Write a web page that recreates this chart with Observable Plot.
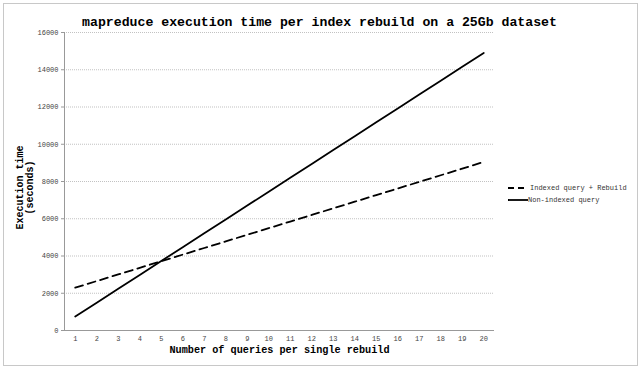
<!DOCTYPE html>
<html>
<head>
<meta charset="utf-8">
<script src="https://cdn.jsdelivr.net/npm/d3@7"></script>
<script src="https://cdn.jsdelivr.net/npm/@observablehq/plot@0.6"></script>
<style>
  html, body { margin: 0; padding: 0; background: #fff; }
  #wrap { position: relative; width: 640px; height: 368px; }
  #border { position: absolute; left: 3px; top: 3px; width: 633px; height: 361px; border: 1px solid #c8c8c8; pointer-events: none; }
</style>
</head>
<body>
<div id="wrap"><div id="border"></div></div>
<script>
const queries = [1,2,3,4,5,6,7,8,9,10,11,12,13,14,15,16,17,18,19,20];
const indexedRebuild = [2300,2655,3010,3365,3720,4075,4430,4785,5140,5495,5850,6205,6560,6915,7270,7625,7980,8335,8690,9050];
const nonIndexed = [750,1490,2240,2980,3730,4470,5220,5960,6710,7450,8200,8940,9690,10430,11180,11920,12670,13410,14160,14900];
const yTicks = [0,2000,4000,6000,8000,10000,12000,14000,16000];
const seriesNames = ["Indexed query + Rebuild", "Non-indexed query"];
const titleText = "mapreduce execution time per index rebuild on a 25Gb dataset";
const xLabel = "Number of queries per single rebuild";
const yLabel = "Execution time\n(seconds)";

const data = [];
queries.forEach((q, i) => {
  data.push({q, v: indexedRebuild[i], s: seriesNames[0]});
  data.push({q, v: nonIndexed[i], s: seriesNames[1]});
});

const mono = "'Liberation Mono', 'DejaVu Sans Mono', monospace";

const chart = Plot.plot({
  width: 640,
  height: 368,
  marginLeft: 64,
  marginRight: 146,
  marginTop: 32,
  marginBottom: 38,
  style: { fontFamily: mono, fontSize: "7px", color: "#444", background: "transparent" },
  x: { domain: [0.5, 20.5], label: null },
  y: { domain: [0, 16000], label: null },
  marks: [
    Plot.gridY(yTicks.filter(d => d > 0), { stroke: "#999", strokeOpacity: 1, strokeWidth: 0.6, strokeDasharray: "1,1" }),
    Plot.axisX({ ticks: queries, tickFormat: d => String(d), tickSize: 0, tickPadding: 6, fontSize: 7, fill: "#444" }),
    Plot.axisY({ ticks: yTicks, tickFormat: d => String(d), tickSize: 3, tickPadding: 3, fontSize: 7, fill: "#444", stroke: "#999" }),
    Plot.ruleY([0], { stroke: "#999", strokeWidth: 1 }),
    Plot.ruleX([0.5], { stroke: "#999", strokeWidth: 1 }),
    Plot.line(data.filter(d => d.s === seriesNames[0]), { x: "q", y: "v", stroke: "#000", strokeWidth: 1.8, strokeDasharray: "8,5" }),
    Plot.line(data.filter(d => d.s === seriesNames[1]), { x: "q", y: "v", stroke: "#000", strokeWidth: 1.8 }),
    Plot.text([titleText], { frameAnchor: "top", dy: -16, dx: 40, textAnchor: "middle", fontSize: 13.2, fontWeight: "bold", fill: "#000", fontFamily: mono }),
    Plot.text([xLabel], { frameAnchor: "bottom", dy: 22, textAnchor: "middle", fontSize: 10.2, fontWeight: "bold", fill: "#000", fontFamily: mono }),
    Plot.text([yLabel], { frameAnchor: "left", dx: -40, dy: 6, rotate: -90, textAnchor: "middle", fontSize: 10, fontWeight: "bold", fill: "#000", fontFamily: mono, lineHeight: 1.0 })
  ]
});

// legend (outside plot area, right side)
const svg = d3.select(chart);
const leg = svg.append("g").attr("font-family", mono).attr("font-size", 7).attr("fill", "#333").attr("text-anchor", "start");
const legY = [188, 200];
seriesNames.forEach((name, i) => {
  const g = leg.append("g").attr("transform", `translate(508,${legY[i]})`);
  g.append("line").attr("x1", 0).attr("x2", i === 0 ? 18 : 20).attr("y1", 0).attr("y2", 0)
    .attr("stroke", "#000").attr("stroke-width", 1.8)
    .attr("stroke-dasharray", i === 0 ? "6,4" : null);
  g.append("text").attr("x", i === 0 ? 22 : 20).attr("y", 0).attr("dy", "0.32em").attr("text-anchor", "start").text(name);
});

document.getElementById("wrap").appendChild(chart);
</script>
</body>
</html>
